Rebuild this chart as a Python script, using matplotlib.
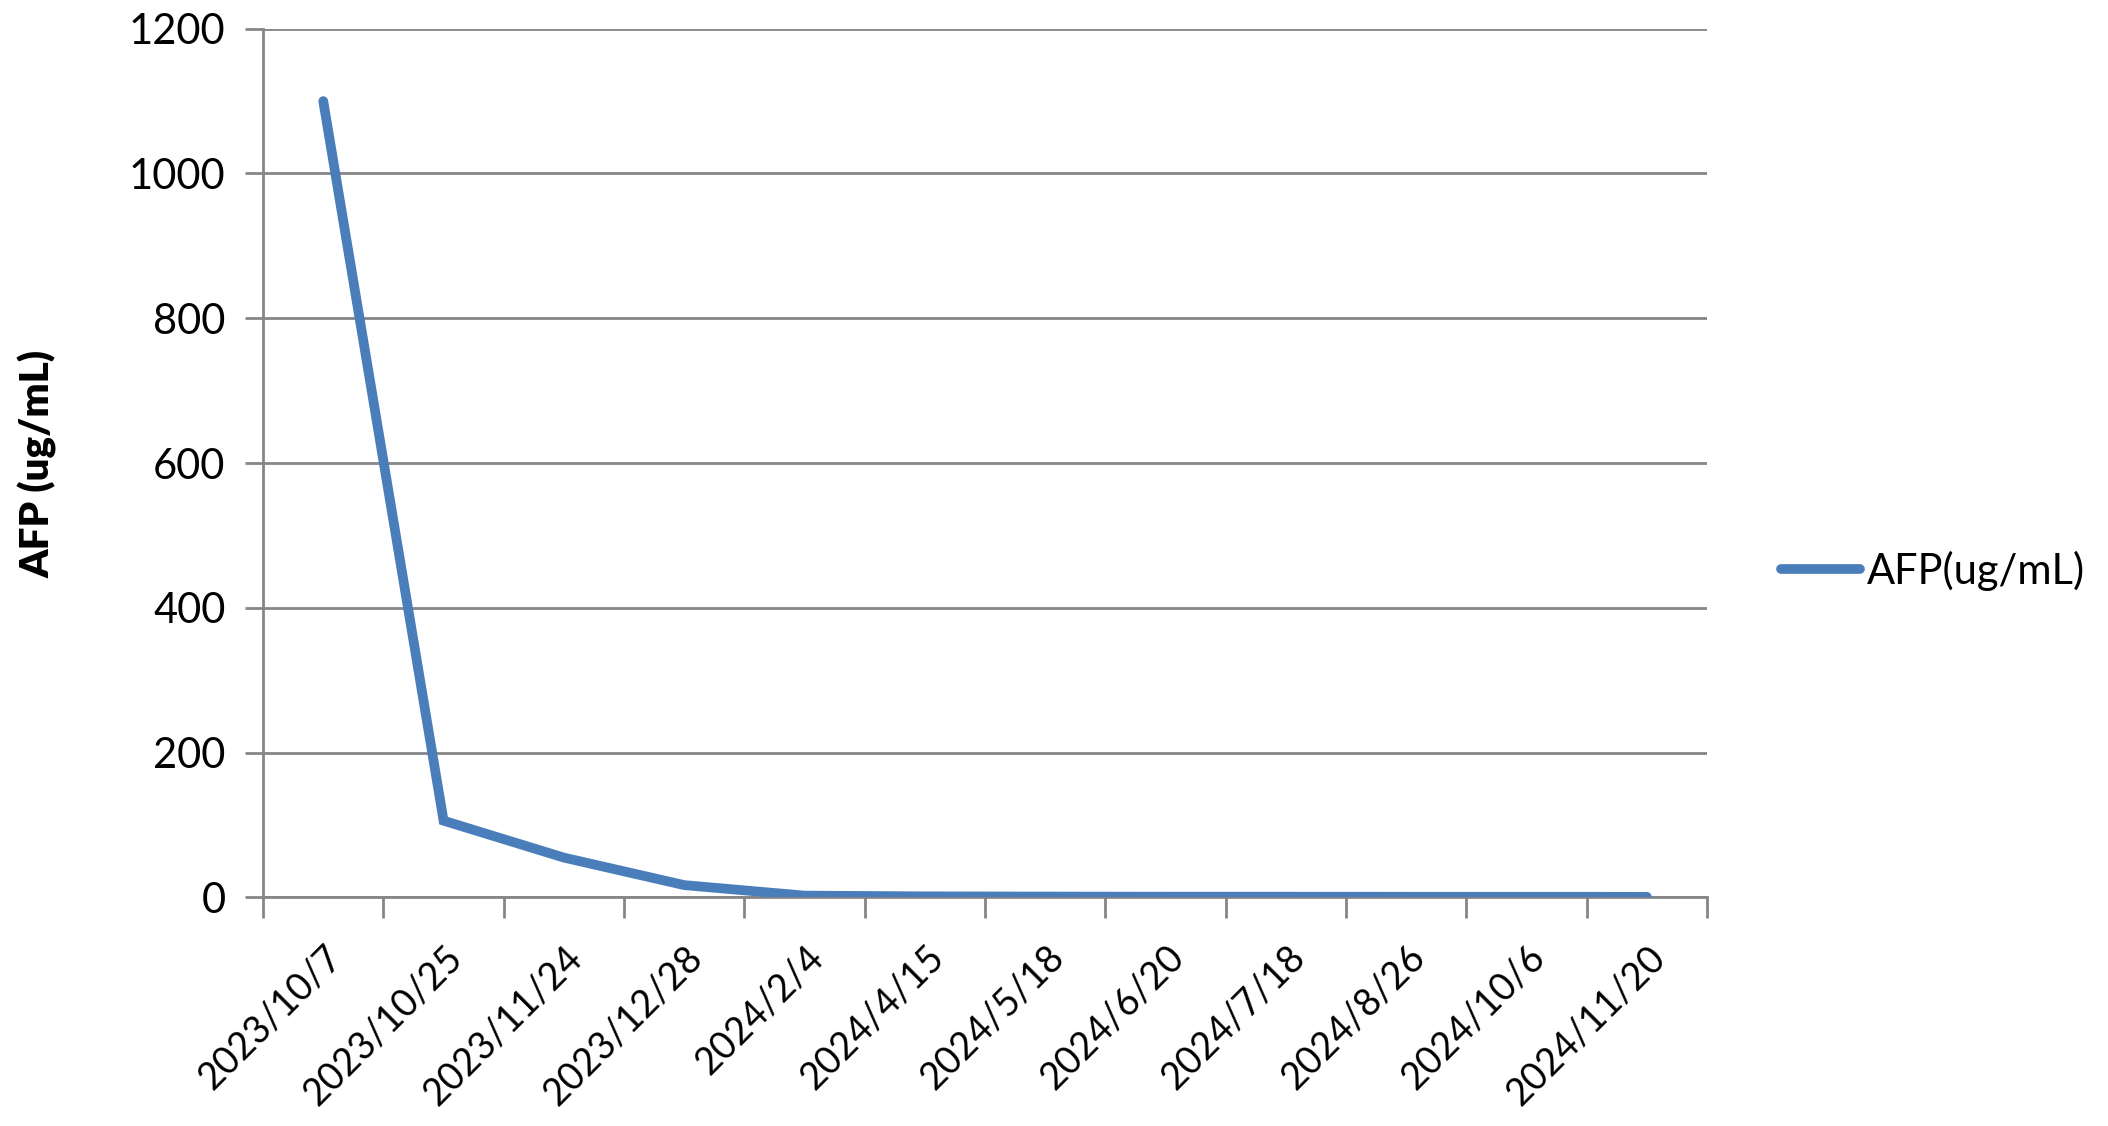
import matplotlib
matplotlib.use("Agg")
import matplotlib.pyplot as plt
from matplotlib.lines import Line2D

dates = ["2023/10/7", "2023/10/25", "2023/11/24", "2023/12/28", "2024/2/4",
         "2024/4/15", "2024/5/18", "2024/6/20", "2024/7/18", "2024/8/26",
         "2024/10/6", "2024/11/20"]
afp = [1100, 106, 55, 17, 2.5, 1.5, 1.2, 1.0, 1.0, 0.9, 0.9, 0.8]
series_name = "AFP(ug/mL)"
y_label = "AFP (ug/mL)"
y_ticks = [0, 200, 400, 600, 800, 1000, 1200]

plt.rcParams['font.family'] = ['Lato', 'DejaVu Sans']
grid_c = "#868686"
line_c = "#4A7EBB"

fig = plt.figure(figsize=(21.08, 11.26), dpi=100)
ax = fig.add_axes([0.1248, 0.2030, 0.6850, 0.7715])

n = len(dates)
x = list(range(n))
ax.plot(x, afp, color=line_c, linewidth=7, solid_capstyle='round', solid_joinstyle='miter', zorder=3)

ax.set_xlim(-0.5, n - 0.5)
ax.set_ylim(0, 1200)
ax.set_yticks(y_ticks)
ax.set_yticklabels([str(v) for v in y_ticks], fontsize=30)
for v in y_ticks:
    ax.axhline(v, color=grid_c, linewidth=2, zorder=1)

ax.set_xticks([i - 0.5 for i in range(n + 1)])
ax.set_xticklabels([])
ax.set_xticks(x, minor=True)
ax.set_xticklabels(dates, minor=True, rotation=45, ha='right', va='top',
                   rotation_mode='anchor', fontsize=27)
ax.tick_params(axis='x', which='minor', length=0, pad=30)
ax.tick_params(axis='x', which='major', length=15, width=2, color=grid_c, direction='out')
ax.tick_params(axis='y', length=13, width=2, color=grid_c, direction='out', pad=14)

for s in ['top', 'right']:
    ax.spines[s].set_visible(False)
for s in ['left', 'bottom']:
    ax.spines[s].set_color(grid_c)
    ax.spines[s].set_linewidth(2)

fig.text(0.018, 0.588, y_label, rotation=90, fontsize=29, fontweight='heavy',
         ha='center', va='center')

handle = Line2D([], [], color=line_c, linewidth=7, solid_capstyle='round')
fig.legend([handle], [series_name], loc='center left', bbox_to_anchor=(0.845, 0.493),
           frameon=False, fontsize=30, handlelength=1.9, handletextpad=0.15,
           borderaxespad=0, borderpad=0)

fig.savefig("out.png", dpi=100, facecolor='white')
